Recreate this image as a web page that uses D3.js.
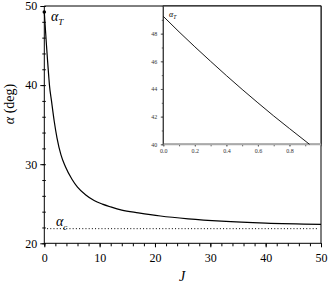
<!DOCTYPE html>
<html>
<head>
<meta charset="utf-8">
<script src="https://cdn.jsdelivr.net/npm/d3@7"></script>
<style>
body { margin: 0; background: #fff; }
.domain { display: none; }
</style>
</head>
<body>
<svg id="chart" width="329" height="285"></svg>
<script>
// main curve alpha(J)
var mainJ = [0, 0.2, 0.4, 0.6, 0.8, 0.93, 1.3, 1.8, 2.3, 3, 3.8, 5, 6, 7.5, 9, 10.5, 12, 14, 17, 21, 26, 32, 40, 50];
var mainAlpha = [49.25, 47.05, 44.97, 43.0, 41.14, 40.0, 38.0, 35.4, 33.3, 31.2, 29.7, 28.1, 27.1, 26.1, 25.4, 24.95, 24.6, 24.2, 23.85, 23.45, 23.1, 22.8, 22.55, 22.4];
var alphaC = 21.85;
var xTicks = [0, 10, 20, 30, 40, 50];
var yTicks = [20, 30, 40, 50];

// inset (zoom on small J)
var insetJ = [0, 0.1, 0.2, 0.3, 0.4, 0.5, 0.6, 0.7, 0.8, 0.927];
var insetAlpha = [49.25, 48.13, 47.05, 46.0, 44.97, 43.97, 43.0, 42.05, 41.14, 40.0];
var insetXTicks = [0, 0.2, 0.4, 0.6, 0.8];
var insetYTicks = [40, 42, 44, 46, 48];

var serif = "'Liberation Serif', 'Times New Roman', 'DejaVu Serif', serif";
var svg = d3.select("#chart");

var x = d3.scaleLinear().domain([0, 50]).range([44.3, 321]);
var y = d3.scaleLinear().domain([20, 50]).range([243.3, 6]);

// frame top + right
svg.append("path")
  .attr("d", "M" + x(0) + "," + y(50) + "H" + x(50) + "V" + y(20))
  .attr("fill", "none").attr("stroke", "#000").attr("stroke-width", 1);

// axes
var gx = svg.append("g").attr("transform", "translate(0," + y(20) + ")");
gx.call(d3.axisBottom(x).tickValues(d3.range(0, 51, 2)).tickSize(3).tickFormat(""));
gx.append("g").call(d3.axisBottom(x).tickValues(xTicks).tickSize(4).tickFormat(d3.format("d")))
  .selectAll("text").attr("font-size", 12).attr("fill", "#000").attr("dy", "0.95em");
gx.append("line").attr("x1", x(0)).attr("x2", x(50)).attr("stroke", "#000");

var gy = svg.append("g").attr("transform", "translate(" + x(0) + ",0)");
gy.call(d3.axisLeft(y).tickValues(d3.range(20, 51, 2)).tickSize(2).tickFormat(""));
gy.append("g").call(d3.axisLeft(y).tickValues(d3.range(20, 51, 2)).tickSize(-1.5).tickFormat(""));
gy.append("g").call(d3.axisLeft(y).tickValues(yTicks).tickSize(4).tickFormat(d3.format("d")))
  .selectAll("text").attr("font-size", 12).attr("fill", "#000");
gy.append("line").attr("y1", y(20)).attr("y2", y(50)).attr("stroke", "#000");

// axis titles
svg.append("text")
  .attr("transform", "translate(14,104) rotate(-90)")
  .attr("text-anchor", "middle").attr("font-size", 14)
  .html('<tspan font-style="italic">α</tspan> (deg)');
svg.append("text").attr("x", 182).attr("y", 281)
  .attr("text-anchor", "middle").attr("font-size", 14).attr("font-style", "italic").text("J");

// dotted alpha_c
svg.append("line")
  .attr("x1", x(0.5)).attr("x2", x(49.5))
  .attr("y1", y(alphaC)).attr("y2", y(alphaC))
  .attr("stroke", "#000").attr("stroke-width", 1).attr("stroke-dasharray", "1,2.2");

// main curve
var line = d3.line().x(function(d){ return x(d[0]); }).y(function(d){ return y(d[1]); }).curve(d3.curveMonotoneX);
svg.append("path")
  .datum(mainJ.map(function(j, i){ return [j, mainAlpha[i]]; }))
  .attr("d", line).attr("fill", "none").attr("stroke", "#000").attr("stroke-width", 1.2);
svg.append("circle").attr("cx", x(mainJ[0])).attr("cy", y(mainAlpha[0])).attr("r", 1.8).attr("fill", "#000");

// labels
svg.append("text").attr("x", 51).attr("y", 21).attr("font-size", 14).attr("font-style", "italic")
  .html('α<tspan font-size="9" dy="4">T</tspan>');
svg.append("text").attr("x", 56).attr("y", 226).attr("font-size", 14).attr("font-style", "italic")
  .html('α<tspan font-size="9" dy="4">c</tspan>');

// ---- inset ----
var ix = d3.scaleLinear().domain([0, 1]).range([163.3, 321]);
var iy = d3.scaleLinear().domain([40, 50]).range([144.3, 6]);

svg.append("rect").attr("x", ix(0)).attr("y", iy(50)).attr("width", ix(1) - ix(0)).attr("height", iy(40) - iy(50))
  .attr("fill", "#fff").attr("stroke", "#000").attr("stroke-width", 1);

var igx = svg.append("g").attr("transform", "translate(0," + iy(40) + ")");
igx.call(d3.axisBottom(ix).tickValues(d3.range(0, 1.01, 0.1)).tickSize(2).tickFormat(""));
igx.append("g").call(d3.axisBottom(ix).tickValues(insetXTicks).tickSize(2).tickFormat(d3.format(".1f")))
  .selectAll("text").attr("font-size", 6).attr("fill", "#333").attr("dy", "0.6em");
igx.append("line").attr("x1", ix(0)).attr("x2", ix(1)).attr("stroke", "#aaa").attr("stroke-width", 2);

var igy = svg.append("g").attr("transform", "translate(" + ix(0) + ",0)");
igy.call(d3.axisLeft(iy).tickValues(d3.range(40, 50.1, 1)).tickSize(1.5).tickFormat(""));
igy.append("g").call(d3.axisLeft(iy).tickValues(insetYTicks).tickSize(2.5).tickFormat(d3.format("d")))
  .selectAll("text").attr("font-size", 6).attr("fill", "#333").attr("dx", "-0.1em");
igy.append("line").attr("y1", iy(40)).attr("y2", iy(50)).attr("stroke", "#444");

svg.selectAll(".tick line").attr("stroke", "#555");
gx.selectAll(".tick line").attr("stroke", "#000");
gy.selectAll(".tick line").attr("stroke", "#000");

var iline = d3.line().x(function(d){ return ix(d[0]); }).y(function(d){ return iy(d[1]); }).curve(d3.curveMonotoneX);
svg.append("path")
  .datum(insetJ.map(function(j, i){ return [j, insetAlpha[i]]; }))
  .attr("d", iline).attr("fill", "none").attr("stroke", "#000").attr("stroke-width", 0.9);

svg.append("text").attr("x", 169).attr("y", 17).attr("font-size", 8).attr("font-style", "italic")
  .html('α<tspan font-size="5.5" dy="2">T</tspan>');

// serif everywhere
svg.selectAll("g").attr("font-family", serif);
svg.selectAll("text").attr("font-family", serif);
</script>
</body>
</html>
